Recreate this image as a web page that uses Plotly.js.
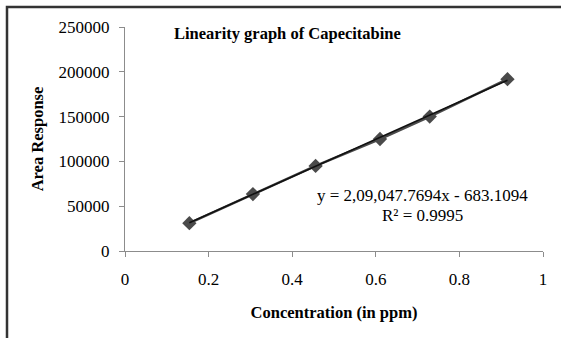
<!DOCTYPE html>
<html>
<head>
<meta charset="utf-8">
<script src="https://cdn.plot.ly/plotly-3.0.1.min.js"></script>
<style>
html,body{margin:0;padding:0;background:#fff;}
#chart{width:561px;height:338px;}
</style>
</head>
<body>
<div id="chart"></div>
<script>
// Data
const concentration = [0.154, 0.306, 0.456, 0.610, 0.729, 0.915];
const areaResponse = [31000, 63500, 95000, 125000, 150000, 191800];
const slope = 209047.7694;
const intercept = -683.1094;
const xTicks = [0, 0.2, 0.4, 0.6, 0.8, 1];
const xTickLabels = ['0', '0.2', '0.4', '0.6', '0.8', '1'];
const yTicks = [0, 50000, 100000, 150000, 200000, 250000];
const yTickLabels = ['0', '50000', '100000', '150000', '200000', '250000'];

const trendX = [concentration[0], concentration[concentration.length - 1]];
const trendY = trendX.map(x => slope * x + intercept);

const serif = 'Liberation Serif';

const traces = [
  {
    x: concentration, y: areaResponse, type: 'scatter', mode: 'lines+markers',
    line: {color: '#4a4a4a', width: 2.5},
    marker: {symbol: 'diamond', size: 11, color: '#4a4a4a'},
    hoverinfo: 'none', showlegend: false
  },
  {
    x: trendX, y: trendY, type: 'scatter', mode: 'lines',
    line: {color: '#111111', width: 1.5},
    hoverinfo: 'none', showlegend: false
  }
];

const px = p => (p - 125) / 418;
const py = p => (251 - p) / 224;

const layout = {
  width: 561, height: 338,
  margin: {l: 125, r: 18, t: 27, b: 87},
  paper_bgcolor: '#ffffff', plot_bgcolor: '#ffffff',
  font: {family: serif, size: 17, color: '#000'},
  xaxis: {
    range: [0, 1], tickvals: xTicks, ticktext: xTickLabels,
    showgrid: false, zeroline: false, showline: true, linecolor: '#8c8c8c', linewidth: 1,
    ticks: 'outside', ticklen: 5, tickcolor: '#8c8c8c', ticklabelstandoff: 8,
    tickfont: {family: serif, size: 17, color: '#000'},
    title: {text: '<b>Concentration (in ppm)</b>', font: {family: serif, size: 16.5, color: '#000'}, standoff: 18}
  },
  yaxis: {
    range: [0, 250000], tickvals: yTicks, ticktext: yTickLabels,
    showgrid: false, zeroline: false, showline: true, linecolor: '#8c8c8c', linewidth: 1,
    ticks: 'outside', ticklen: 5, tickcolor: '#8c8c8c', ticklabelstandoff: 6,
    tickfont: {family: serif, size: 17, color: '#000'},
    title: {text: '<b>Area Response</b>', font: {family: serif, size: 16.5, color: '#000'}, standoff: 10}
  },
  annotations: [
    {text: '<b>Linearity graph of Capecitabine</b>', xref: 'paper', yref: 'paper',
     x: px(172), y: py(33), xanchor: 'left', yanchor: 'middle', showarrow: false,
     font: {family: serif, size: 16.5, color: '#000'}},
    {text: 'y = 2,09,047.7694x - 683.1094', xref: 'paper', yref: 'paper',
     x: px(422), y: py(195), xanchor: 'center', yanchor: 'middle', showarrow: false,
     font: {family: serif, size: 17, color: '#000'}},
    {text: 'R² = 0.9995', xref: 'paper', yref: 'paper',
     x: px(422), y: py(215), xanchor: 'center', yanchor: 'middle', showarrow: false,
     font: {family: serif, size: 17, color: '#000'}}
  ],
  shapes: [
    {type: 'path', xref: 'paper', yref: 'paper',
     path: 'M ' + px(7) + ',' + py(345) + ' L ' + px(7) + ',' + py(7) + ' L ' + px(570) + ',' + py(7),
     line: {color: '#333333', width: 2.5}}
  ]
};

Plotly.newPlot('chart', traces, layout, {displayModeBar: false, staticPlot: true});
</script>
</body>
</html>
